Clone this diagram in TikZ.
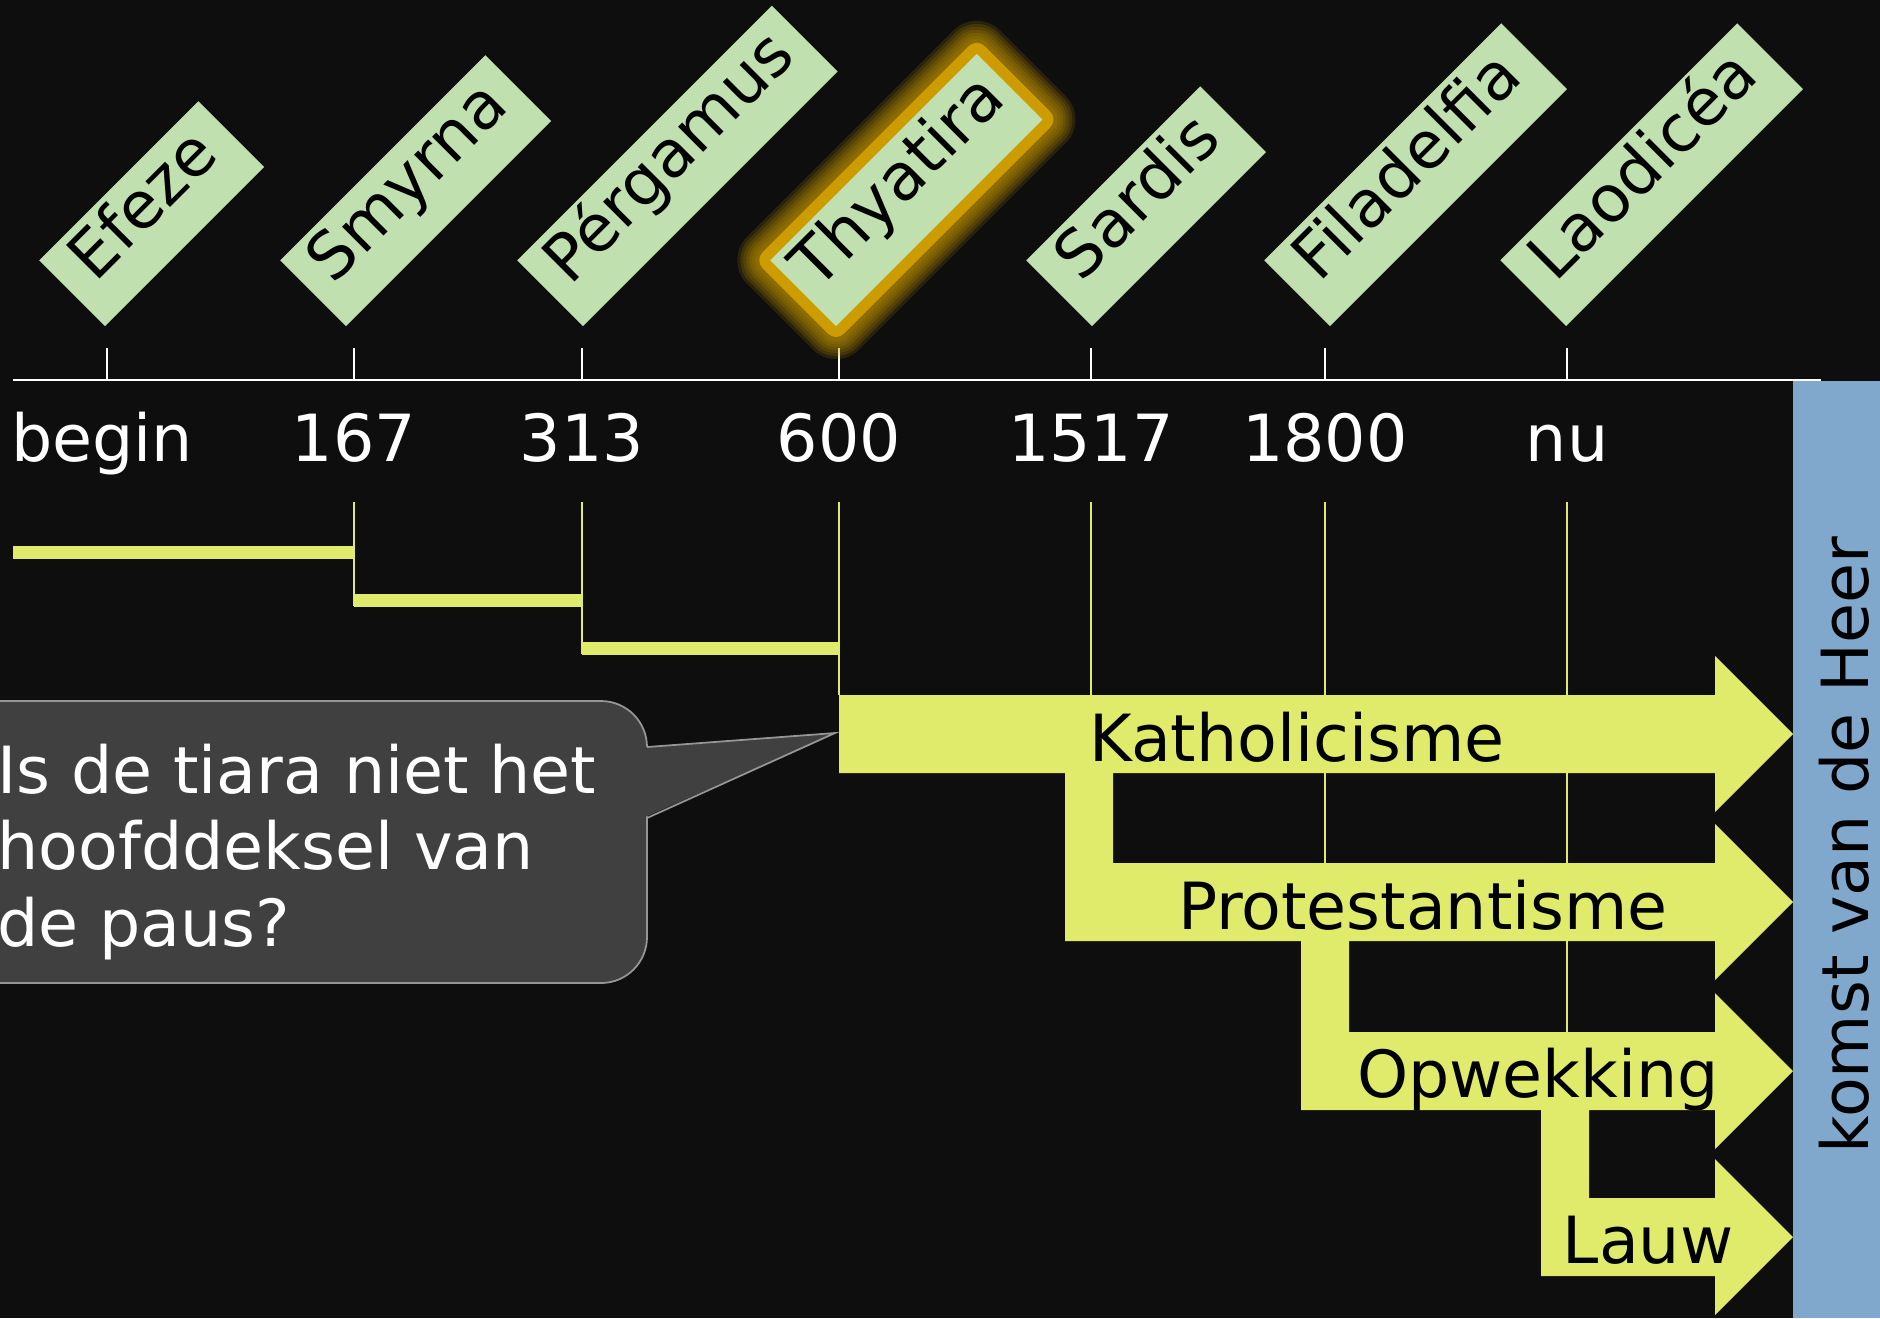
\documentclass[tikz,border=0pt]{standalone}
\usepackage{fontspec}
\setmainfont{DejaVu Sans}
\usetikzlibrary{positioning,calc}
\definecolor{nightbg}{RGB}{14,14,14}
\definecolor{churchgreen}{RGB}{193,224,176}
\definecolor{eraYellow}{RGB}{224,235,107}
\definecolor{heerBlue}{RGB}{127,168,204}
\definecolor{bubbleGray}{RGB}{64,64,64}
\definecolor{bubbleEdge}{RGB}{150,150,150}
\definecolor{glowGold}{RGB}{204,156,0}
\newcommand{\slidefont}{\fontsize{18.5}{21.8}\selectfont}
\tikzset{
  axisln/.style={white, line width=0.6pt},
  churchbox/.style={fill=churchgreen, text=black, rotate=45, anchor=south west,
    inner sep=0pt, minimum height=0.93cm, text height=0.74em, text depth=0.22em,
    font=\slidefont},
  plainbox/.style={},
  halo/.style={preaction={draw=glowGold, draw opacity=0.15, line width=#1, line join=round}},
  glowbox/.style={halo=0.66cm, halo=0.60cm, halo=0.54cm, halo=0.48cm,
    halo=0.42cm, halo=0.36cm, halo=0.30cm,
    preaction={draw=glowGold, line width=0.22cm, line join=round}},
  yearlbl/.style={white, anchor=base, inner sep=0pt, font=\slidefont},
  stepln/.style={eraYellow, line width=0.13cm},
  guideln/.style={eraYellow, line width=0.6pt},
  eralbl/.style={black, anchor=base, inner sep=0pt, font=\slidefont},
}
\newcommand{\erapijl}[3]{% bar left, bar top, centre line
  \fill[eraYellow] (#1,#2) -- (#1,#3+0.39) -- (17.15,#3+0.39) -- (17.15,#3+0.78)
    -- (17.93,#3) -- (17.15,#3-0.78) -- (17.15,#3-0.39) -- (#1+0.48,#3-0.39)
    -- (#1+0.48,#2) -- cycle;
}

\begin{document}
\begin{tikzpicture}[x=1cm, y=-1cm]
    \path[use as bounding box] (0,0) rectangle (18.8,13.18);
    \clip (0,0) rectangle (18.8,13.18);
    \fill[nightbg] (0,0) rectangle (18.8,13.18);
    % time axis
    \draw[axisln] (0.13,3.80) -- (18.21,3.80);
    \foreach \x/\lx/\yr [count=\i] in {1.07/1.02/begin, 3.54/3.54/167, 5.82/5.82/313,
        8.39/8.39/600, 10.91/10.91/1517, 13.25/13.25/1800, 15.67/15.67/nu}{
      \draw[axisln] (\x,3.48) -- (\x,3.80);
      \node[yearlbl] (yr\i) at (\lx,4.61) {\yr};
    }
    % the seven churches
    \foreach \x/\len/\name/\look [count=\i] in {1.05/2.25/Efeze/plainbox,
        3.46/2.90/Smyrna/plainbox, 5.83/3.60/Pérgamus/plainbox,
        8.36/2.92/Thyatira/glowbox, 10.92/2.46/Sardis/plainbox,
        13.30/3.35/Filadelfia/plainbox, 15.66/3.35/Laodicéa/plainbox}
      \node[churchbox, \look, minimum width=\len cm] (church\i) at (\x,3.27) {\name};
    % guide lines and first periods
    \foreach \x/\yend in {3.54/6.06, 5.82/6.54, 8.39/6.95, 10.91/7.73, 13.25/9.41, 15.67/11.10}
      \draw[guideln] (\x,5.02) -- (\x,\yend);
    \draw[stepln] (0.13,5.52) -- (3.54,5.52);
    \draw[stepln] (3.54,6.00) -- (5.82,6.00);
    \draw[stepln] (5.82,6.48) -- (8.39,6.48);
    % continuing periods
    \erapijl{8.39}{6.95}{7.34}
    \erapijl{10.65}{7.73}{9.02}
    \erapijl{13.01}{9.41}{10.71}
    \erapijl{15.41}{11.10}{12.37}
    \node[eralbl] (kath) at (12.97,7.61) {Katholicisme};
    \node[eralbl] (prot) at (14.23,9.29) {Protestantisme};
    \node[eralbl] (opw) at (15.38,10.97) {Opwekking};
    \node[eralbl] (lauw) at (16.48,12.63) {Lauw};
    % coming of the Lord
    \fill[heerBlue] (17.93,3.81) rectangle (18.8,13.18);
    \node[rotate=90, font=\slidefont, inner sep=0pt] (heer) at (18.44,8.45) {komst van de Heer};
    % callout
    \draw[bubbleEdge, fill=bubbleGray, line width=0.5pt, rounded corners=0.46cm]
      (-0.6,7.01) rectangle (6.47,9.83);
    \fill[bubbleGray] (6.43,7.47) -- (8.35,7.33) -- (6.43,8.18) -- cycle;
    \draw[bubbleEdge, line width=0.5pt] (6.47,7.47) -- (8.35,7.33) -- (6.47,8.18);
    \node[white, font=\slidefont, align=left, anchor=north west, inner sep=0pt]
      (vraag) at (-0.03,7.43) {Is de tiara niet het\\hoofddeksel van\\de paus?};
\end{tikzpicture}
\end{document}
